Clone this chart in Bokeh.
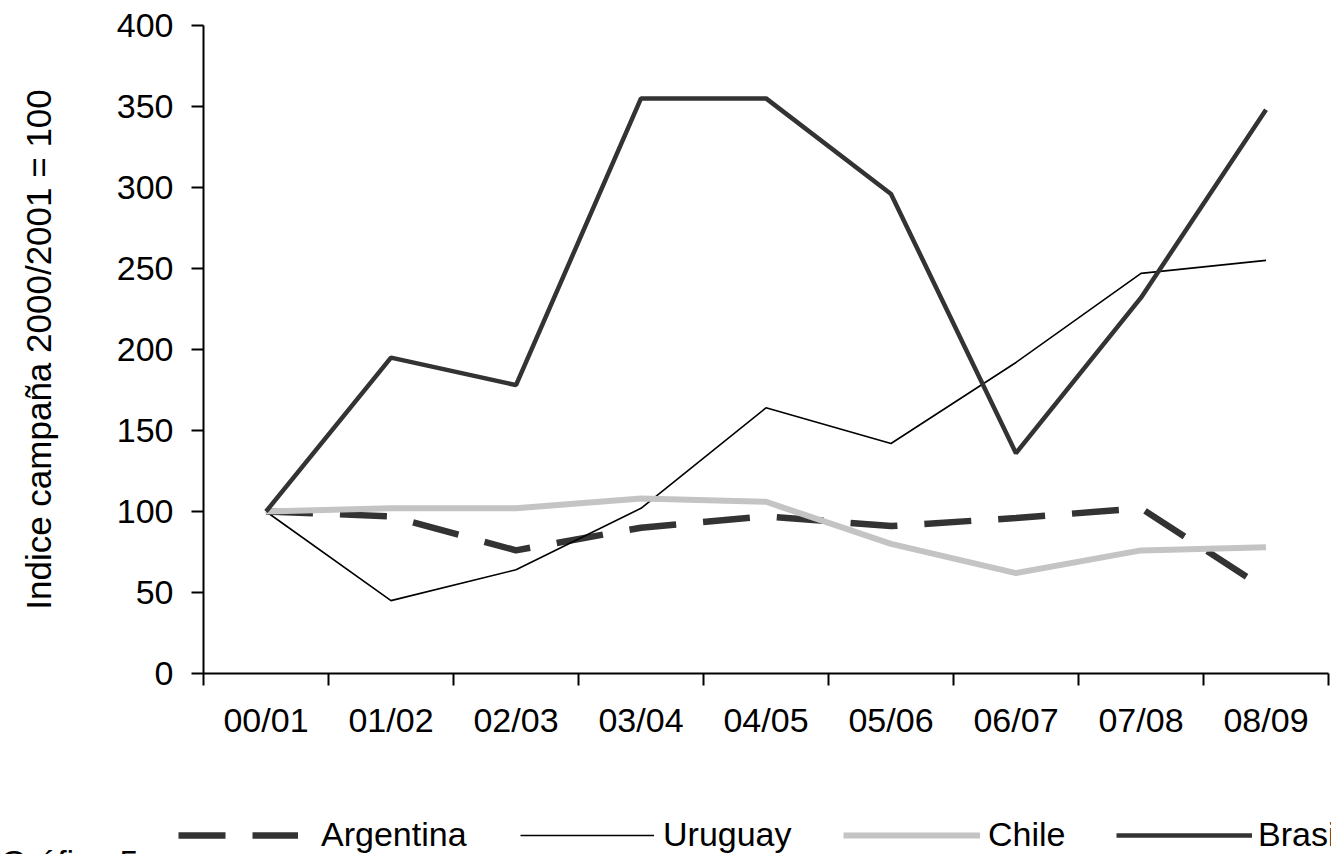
from bokeh.plotting import figure
from bokeh.models import Range1d, FixedTicker, Legend, LegendItem, Label
from bokeh.embed import file_html
from bokeh.resources import INLINE

campaigns = ["00/01", "01/02", "02/03", "03/04", "04/05", "05/06", "06/07", "07/08", "08/09"]
argentina = [100, 97, 76, 90, 97, 91, 96, 102, 52]
uruguay = [100, 45, 64, 102, 164, 142, 192, 247, 255]
chile = [100, 102, 102, 108, 106, 80, 62, 76, 78]
brasil = [100, 195, 178, 355, 355, 296, 136, 232, 348]
y_ticks = [0, 50, 100, 150, 200, 250, 300, 350, 400]
y_title = "Indice campaña 2000/2001 = 100"
series_names = ["Argentina", "Uruguay", "Chile", "Brasil"]
caption = "Gráfico 5"

FONT = "Liberation Sans"
FS = "34px"
W = 1331
H_MAIN = 770
H_LEG = 84
FRAME_LEFT = 203

styles = [
    dict(line_color="#333333", line_width=6.5, line_dash="47 27"),
    dict(line_color="black", line_width=1.6),
    dict(line_color="#c4c4c4", line_width=6),
    dict(line_color="#333333", line_width=4.5),
]

n = len(campaigns)
xs = [i + 0.5 for i in range(n)]

p = figure(width=W, height=H_MAIN, output_backend="svg", toolbar_location=None,
           x_range=Range1d(0, n), y_range=Range1d(0, 400),
           min_border_left=FRAME_LEFT, min_border_right=W - 1328, min_border_top=25,
           min_border_bottom=H_MAIN - 673)
p.outline_line_color = None
p.grid.visible = False

xa = p.xaxis[0]
xa.ticker = FixedTicker(ticks=xs, minor_ticks=list(range(n + 1)))
xa.major_label_overrides = {x: c for x, c in zip(xs, campaigns)}
xa.major_tick_line_color = None
xa.minor_tick_in = 0
xa.minor_tick_out = 12
xa.minor_tick_line_width = 2
xa.minor_tick_line_color = "black"
xa.axis_line_width = 2
xa.axis_line_color = "black"
xa.major_label_standoff = 15
xa.major_label_text_font = FONT
xa.major_label_text_font_size = FS
xa.major_label_text_color = "black"

ya = p.yaxis[0]
ya.ticker = FixedTicker(ticks=y_ticks, minor_ticks=[])
ya.major_tick_in = 0
ya.major_tick_out = 12
ya.major_tick_line_width = 2
ya.major_tick_line_color = "black"
ya.axis_line_width = 2
ya.axis_line_color = "black"
ya.major_label_standoff = 18
ya.major_label_text_font = FONT
ya.major_label_text_font_size = FS
ya.major_label_text_color = "black"
ya.axis_label = y_title
ya.axis_label_text_font = FONT
ya.axis_label_text_font_size = "35px"
ya.axis_label_text_font_style = "normal"
ya.axis_label_text_color = "black"
ya.axis_label_standoff = 56

for vals, st in zip([argentina, uruguay, chile, brasil], styles):
    p.line(xs, vals, **st)

# legend strip below the chart: a separate root so its frame spans the full width
q = figure(width=W, height=H_LEG, output_backend="svg", toolbar_location=None,
           x_range=Range1d(0, 10), y_range=Range1d(0, 10),
           min_border_left=0, min_border_right=0, min_border_top=0, min_border_bottom=0)
q.axis.visible = False
q.grid.visible = False
q.outline_line_color = None

legend_x = [178, 520, 843, 1116]
glyph_w = [120, 134, 137, 136]
standoff = [23, 9, 8, 6]
for name, st, lx, gw, so in zip(series_names, styles, legend_x, glyph_w, standoff):
    # legend-only sample renderer, kept outside the visible range
    r = q.line([-20, -10], [-20, -20], **st)
    lg = Legend(items=[LegendItem(label=name, renderers=[r])],
                location=(lx, 0), orientation="horizontal",
                glyph_width=gw, glyph_height=34, label_height=34,
                label_standoff=so, padding=0, margin=0, spacing=0,
                border_line_color=None, background_fill_alpha=0,
                label_text_font=FONT, label_text_font_size=FS,
                label_text_color="black")
    q.add_layout(lg, "center")

q.add_layout(Label(x=0, y=12, x_units="screen", y_units="screen", text=caption,
                   text_font=FONT, text_font_size=FS, text_color="black",
                   text_baseline="top", text_align="left"))

open("out.html", "w").write(file_html([p, q], INLINE))
